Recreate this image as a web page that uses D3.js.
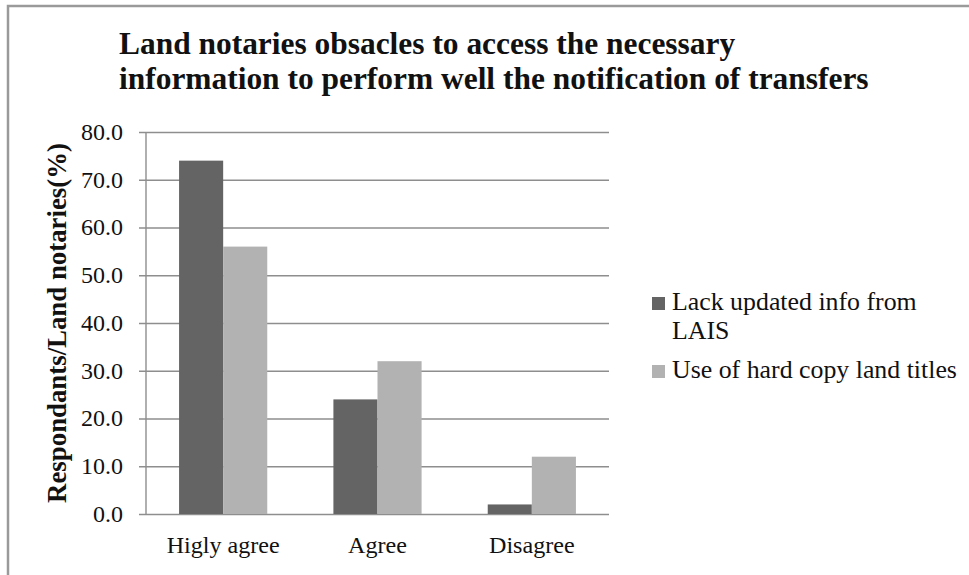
<!DOCTYPE html>
<html>
<head>
<meta charset="utf-8">
<script src="https://cdn.jsdelivr.net/npm/d3@7.9.0/dist/d3.min.js"></script>
<style>
  body { margin: 0; background: #fff; }
  svg text { font-family: 'Liberation Serif', 'DejaVu Serif', 'Times New Roman', serif; }
</style>
</head>
<body>
<svg width="969" height="575"></svg>
<script>
// data
const categories = ['Higly agree', 'Agree', 'Disagree'];
const seriesNames = ['Lack updated info from LAIS', 'Use of hard copy land titles'];
const lackInfo = [74, 24, 2];
const hardCopy = [56, 32, 12];
const yTicks = [0, 10, 20, 30, 40, 50, 60, 70, 80];
const titleLines = ['Land notaries obsacles to access the necessary',
                    'information to perform well the notification of transfers'];
const yLabel = 'Respondants/Land notaries(%)';

const seriesValues = [lackInfo, hardCopy];
const colors = ['#646464', '#b2b2b2'];
const gridColor = '#8e8e8e';
const serif = "'Liberation Serif', 'DejaVu Serif', serif";

const svg = d3.select('svg');

// pick a font size so a text comes out at the width seen in the picture
function fitSize(text, weight, target) {
  let t = svg.append('text').attr('font-family', serif)
    .attr('font-size', 100).attr('font-weight', weight).text(text);
  let w = t.node().getComputedTextLength();
  t.remove();
  return 100 * target / w;
}

// outer frame
svg.append('rect')
  .attr('x', 8).attr('y', 6).attr('width', 1000).attr('height', 600)
  .attr('fill', 'none').attr('stroke', '#9a9a9a').attr('stroke-width', 2.5);

const plot = { left: 146, right: 609, top: 132, bottom: 514 };

let y = d3.scaleLinear().domain([0, 80]).range([plot.bottom, plot.top]);
let x0 = d3.scaleBand().domain(categories).range([plot.left, plot.right]);
let x1 = d3.scaleBand().domain(d3.range(seriesNames.length))
  .range([0, x0.bandwidth()]).paddingInner(0).paddingOuter(0.75);

// gridlines + left ticks
svg.append('g')
  .attr('transform', `translate(${plot.left},0)`)
  .call(d3.axisLeft(y).tickValues(yTicks).tickSize(-(plot.right - plot.left)).tickFormat(''))
  .call(g => g.select('.domain').remove())
  .call(g => g.selectAll('line').attr('stroke', gridColor).attr('stroke-width', 1.4)
    .attr('x1', -7));

// y axis line
svg.append('line')
  .attr('x1', plot.left).attr('x2', plot.left)
  .attr('y1', plot.top).attr('y2', plot.bottom)
  .attr('stroke', gridColor).attr('stroke-width', 1.4);

// tick labels
const tickSize = fitSize('80.0', 'normal', 42);
svg.append('g').selectAll('text')
  .data(yTicks)
  .join('text')
  .attr('x', 123)
  .attr('y', d => y(d))
  .attr('dy', '0.33em')
  .attr('text-anchor', 'end')
  .attr('font-family', serif)
  .attr('font-size', tickSize)
  .attr('fill', '#111')
  .text(d => d.toFixed(1));

// bars
categories.forEach((cat, i) => {
  seriesValues.forEach((vals, s) => {
    svg.append('rect')
      .attr('x', x0(cat) + x1(s))
      .attr('y', y(vals[i]))
      .attr('width', x1.bandwidth())
      .attr('height', y(0) - y(vals[i]))
      .attr('fill', colors[s]);
  });
});

// category labels
const catSize = fitSize('Higly agree', 'normal', 113);
svg.append('g').selectAll('text')
  .data(categories)
  .join('text')
  .attr('x', d => x0(d) + x0.bandwidth() / 2)
  .attr('y', 553)
  .attr('text-anchor', 'middle')
  .attr('font-family', serif)
  .attr('font-size', catSize)
  .attr('fill', '#111')
  .text(d => d);

// title
const titleSize = fitSize(titleLines[1], 'bold', 750);
svg.append('g').selectAll('text')
  .data(titleLines)
  .join('text')
  .attr('x', 119)
  .attr('y', (d, i) => 54 + i * 35)
  .attr('font-family', serif)
  .attr('font-size', titleSize)
  .attr('font-weight', 'bold')
  .attr('fill', '#111')
  .text(d => d);

// y axis title
const yLabSize = fitSize(yLabel, 'bold', 360);
svg.append('text')
  .attr('transform', `translate(66,${(plot.top + plot.bottom) / 2}) rotate(-90)`)
  .attr('text-anchor', 'middle')
  .attr('font-family', serif)
  .attr('font-size', yLabSize)
  .attr('font-weight', 'bold')
  .attr('fill', '#111')
  .text(yLabel);

// legend
const legSize = fitSize(seriesNames[1], 'normal', 285);
const legendRows = [['Lack updated info from', 'LAIS'], [seriesNames[1]]];
let legend = svg.append('g');
let rowY = 310;
seriesNames.forEach((name, s) => {
  legend.append('rect')
    .attr('x', 652).attr('y', rowY - 13)
    .attr('width', 13).attr('height', 13)
    .attr('fill', colors[s]);
  let t = legend.append('text')
    .attr('x', 672).attr('y', rowY)
    .attr('font-family', serif)
    .attr('font-size', legSize)
    .attr('fill', '#111');
  legendRows[s].forEach((line, k) => {
    t.append('tspan').attr('x', 672).attr('dy', k === 0 ? 0 : 29).text(line);
  });
  rowY += legendRows[s].length * 29 + 10;
});
</script>
</body>
</html>
